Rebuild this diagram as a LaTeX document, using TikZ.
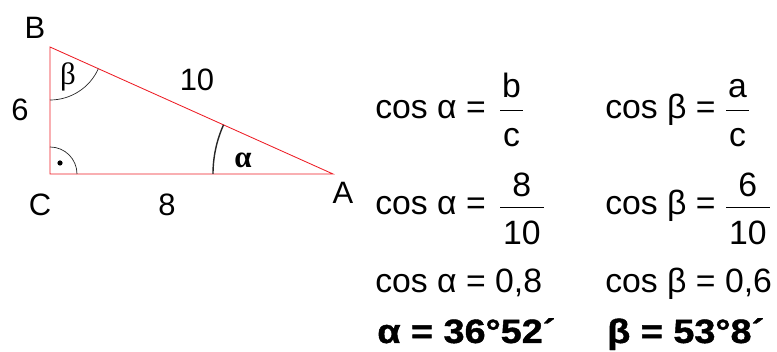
\documentclass[tikz,border=0pt]{standalone}
\usepackage{fontspec}
\setmainfont{Liberation Sans}
\newfontfamily\griech{Liberation Serif}
\newfontfamily\schwer[FakeStretch=1.12, FakeBold=1.2]{Liberation Sans Bold}
\usetikzlibrary{positioning}
\definecolor{seite}{RGB}{237, 28, 36}

\begin{document}
\begin{tikzpicture}[
    x=0.025cm, y=0.025cm,
    dreieck/.style={draw=seite, line width=0.6pt},
    winkel/.style={draw=black!85, line width=0.5pt},
    ecke/.style={font=\fontsize{22}{26}\selectfont, inner sep=0pt},
    formel/.style={font=\fontsize{24}{28}\selectfont, inner sep=0pt, anchor=base west},
    nenner/.style={formel, inner xsep=2pt},
    fett/.style={formel, font=\fontsize{24}{28}\schwer},
    bruch/.style={line width=0.6pt}
  ]
  \useasboundingbox (0,0) rectangle (777,352);

  % Triangle
  \coordinate (C) at (50,178);
  \coordinate (B) at (50,305);
  \coordinate (A) at (333,178);
  \draw[dreieck] (A) -- (B) -- (C) -- cycle;

  % Angles
  \draw[winkel] (C) ++(27,0) arc[start angle=0, end angle=90, radius=27];
  \fill (60,189) circle[radius=2.6];
  \draw[winkel] (B) ++(0,-53) arc[start angle=-90, end angle=-24.2, radius=53];
  \draw[winkel, line width=1pt] (A) ++(-120,0) arc[start angle=180, end angle=155.8, radius=120];

  % Vertex and side labels
  \node[ecke] (lB) at (35,324) {B};
  \node[ecke] (lC) at (40,147) {C};
  \node[ecke] (lA) at (343,159) {A};
  \node[ecke] (sa) at (20,242) {6};
  \node[ecke] (sc) at (197,272) {10};
  \node[ecke] (sb) at (167,147) {8};
  \node[ecke] (wb) at (68,275) {\griech β};
  \node[ecke] (wa) at (243,192) {\griech\bfseries α};

  % cos alpha
  \node[formel] (cosa1) at (375,233) {cos α = };
  \node[nenner] (na1) at (500,205) {c};
  \node[formel, anchor=base] (za1) at (na1.center |- 0,254) {b};
  \draw[bruch] (na1.west |- 0,242) -- (na1.east |- 0,242);

  \node[formel] (cosa2) at (375,137) {cos α = };
  \node[nenner] (na2) at (500,107) {10};
  \node[formel, anchor=base] (za2) at (na2.center |- 0,155) {8};
  \draw[bruch] (na2.west |- 0,145) -- (na2.east |- 0,145);

  \node[formel] (cosa3) at (375,59) {cos α = 0,8};
  \node[fett] (alpha) at (377,9) {α = 36°52´};

  % cos beta
  \node[formel] (cosb1) at (605,233) {cos β = };
  \node[nenner] (nb1) at (726,205) {c};
  \node[formel, anchor=base] (zb1) at (nb1.center |- 0,254) {a};
  \draw[bruch] (nb1.west |- 0,242) -- (nb1.east |- 0,242);

  \node[formel] (cosb2) at (605,137) {cos β = };
  \node[nenner] (nb2) at (726,107) {10};
  \node[formel, anchor=base] (zb2) at (nb2.center |- 0,155) {6};
  \draw[bruch] (nb2.west |- 0,145) -- (nb2.east |- 0,145);

  \node[formel] (cosb3) at (605,59) {cos β = 0,6};
  \node[fett] (beta) at (607,9) {β = 53°8´};

\end{tikzpicture}
\end{document}
